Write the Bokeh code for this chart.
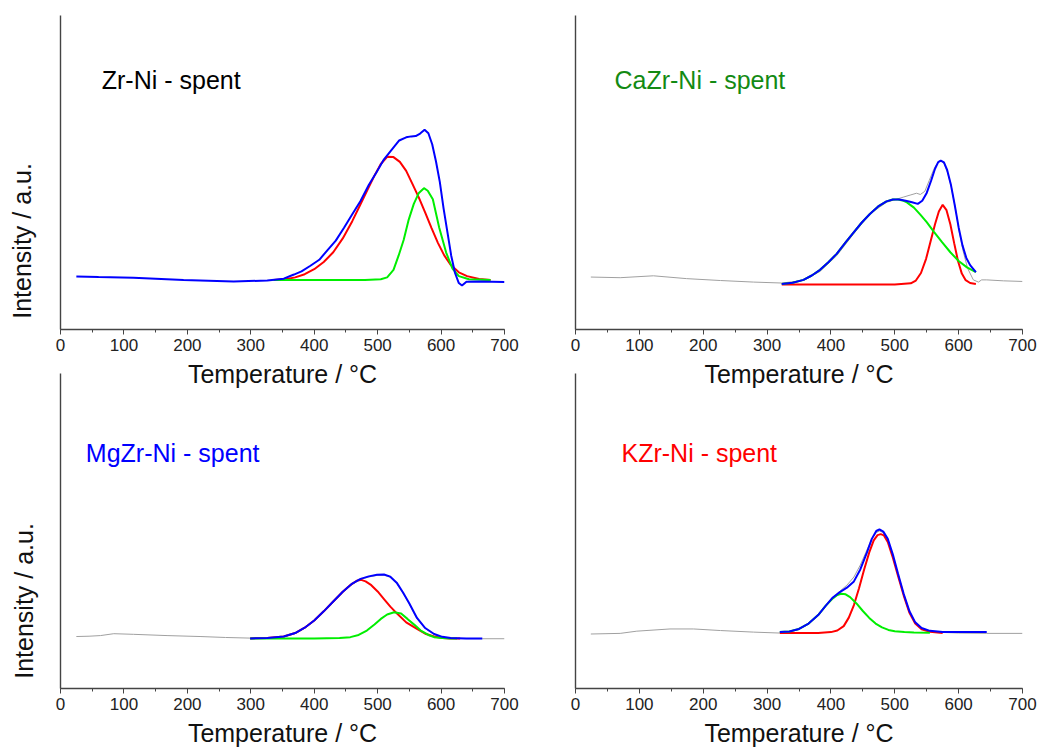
import math
from bokeh.plotting import figure
from bokeh.layouts import column, row
from bokeh.models import Range1d, SingleIntervalTicker, FixedTicker, Label
from bokeh.embed import file_html
from bokeh.resources import INLINE

FONT = "Liberation Sans"

# ---------------- Zr-Ni - spent ----------------
zr_blue_T = [25, 60, 115, 194, 273, 326, 352, 368, 380, 394, 408, 421, 434, 447, 460, 473, 486, 498, 510, 522, 534, 545, 553, 560, 567, 574, 580, 586, 592, 598, 604, 610, 616, 622, 628, 633, 640, 660, 700]
zr_blue_I = [16.9, 16.7, 16.5, 15.8, 15.3, 15.6, 16.2, 17.5, 18.5, 20.3, 22.2, 25.3, 28.3, 32.4, 36.7, 40.9, 46.0, 50.0, 54.2, 57.2, 60.2, 61.2, 61.5, 61.6, 62.4, 63.6, 62.5, 59.0, 53.5, 47.0, 38.5, 31.0, 23.5, 18.0, 14.8, 14.0, 15.2, 15.3, 15.1]
zr_red_T = [336, 355, 370, 385, 400, 415, 430, 445, 460, 472, 484, 495, 505, 515, 525, 535, 545, 555, 565, 575, 585, 595, 605, 615, 628, 641, 660, 678]
zr_red_I = [15.8, 16.0, 16.6, 17.6, 19.2, 21.5, 24.6, 29.0, 34.5, 39.5, 44.5, 49.0, 52.7, 55.0, 54.9, 53.4, 50.5, 46.3, 42.0, 37.2, 32.3, 27.6, 23.6, 20.6, 18.2, 17.0, 16.1, 15.8]
zr_green_T = [336, 400, 480, 505, 515, 525, 533, 541, 549, 557, 565, 573, 579, 587, 597, 608, 618, 628, 644, 678]
zr_green_I = [15.8, 15.8, 15.8, 16.0, 16.6, 19.0, 23.5, 28.5, 35.0, 40.0, 43.5, 45.0, 44.2, 41.5, 32.5, 24.5, 19.4, 17.0, 16.0, 15.8]

# ---------------- CaZr-Ni - spent ----------------
ca_gray_T = [24, 70, 122, 174, 227, 279, 323, 357, 383, 409, 435, 461, 487, 503, 514, 524, 534, 540, 547, 554, 561, 566, 570, 574, 578, 583, 589, 595, 601, 607, 614, 623, 631, 636, 644, 670, 700]
ca_gray_I = [16.7, 16.5, 17.1, 16.2, 15.6, 15.1, 14.8, 15.6, 18.5, 23.5, 30.3, 36.8, 40.5, 41.5, 42.2, 42.8, 43.4, 43.0, 44.0, 47.5, 51.0, 52.8, 53.5, 53.5, 52.5, 49.8, 45.0, 38.5, 31.0, 25.0, 19.5, 15.8, 15.1, 15.8, 15.8, 15.5, 15.3]
ca_blue_T = [323, 340, 357, 370, 383, 396, 409, 422, 435, 448, 461, 474, 487, 497, 507, 517, 527, 536, 543, 550, 557, 563, 568, 572, 577, 582, 588, 594, 600, 606, 612, 618, 627]
ca_blue_I = [14.5, 14.9, 15.8, 17.2, 19.0, 21.4, 24.1, 27.5, 30.8, 34.0, 36.8, 39.2, 40.8, 41.4, 41.4, 41.0, 40.5, 40.0, 41.0, 43.5, 47.5, 51.2, 53.3, 53.8, 53.2, 50.8, 46.0, 39.5, 32.5, 26.8, 22.8, 20.5, 18.3]
ca_green_T = [323, 340, 357, 370, 383, 396, 409, 422, 435, 448, 461, 474, 487, 497, 505, 512, 519, 530, 540, 550, 561, 574, 587, 600, 613, 627]
ca_green_I = [14.5, 14.9, 15.8, 17.2, 19.0, 21.4, 24.1, 27.5, 30.8, 34.0, 36.8, 39.2, 40.8, 41.4, 41.4, 41.1, 40.5, 38.8, 36.6, 34.2, 31.2, 27.8, 24.6, 21.8, 19.8, 18.3]
ca_red_T = [323, 400, 500, 525, 533, 541, 549, 556, 563, 569, 575, 581, 587, 593, 599, 605, 611, 618, 627]
ca_red_I = [14.3, 14.3, 14.3, 14.7, 15.6, 18.0, 22.5, 28.0, 33.5, 37.6, 39.7, 38.0, 33.5, 27.5, 21.8, 17.8, 15.7, 14.8, 14.5]

# ---------------- MgZr-Ni - spent ----------------
mg_gray_T = [25, 45, 63, 84, 115, 168, 220, 260, 299, 326, 352, 370, 385, 400, 415, 430, 445, 460, 473, 486, 499, 510, 520, 530, 540, 550, 562, 575, 589, 602, 615, 640, 665, 700]
mg_gray_I = [16.5, 16.6, 16.8, 17.4, 17.2, 16.8, 16.5, 16.2, 16.0, 16.0, 16.4, 17.4, 19.1, 21.4, 24.3, 27.4, 30.5, 33.1, 34.6, 35.4, 35.9, 36.0, 35.3, 33.4, 30.3, 26.8, 22.2, 19.0, 17.2, 16.3, 15.9, 15.8, 15.8, 15.8]
mg_blue_T = [299, 326, 352, 370, 385, 400, 415, 430, 445, 460, 473, 486, 499, 510, 520, 530, 540, 550, 562, 575, 589, 602, 615, 640, 665]
mg_blue_I = [15.9, 16.0, 16.5, 17.6, 19.3, 21.6, 24.5, 27.6, 30.7, 33.3, 34.8, 35.6, 36.1, 36.2, 35.5, 33.6, 30.5, 27.0, 22.4, 19.2, 17.3, 16.4, 16.0, 15.9, 15.9]
mg_red_T = [299, 326, 352, 370, 385, 400, 415, 430, 445, 458, 467, 474, 481, 490, 500, 510, 520, 531, 545, 562, 575, 589, 602, 615, 630]
mg_red_I = [15.9, 16.0, 16.5, 17.6, 19.3, 21.6, 24.5, 27.6, 30.7, 33.0, 34.2, 34.5, 34.0, 32.8, 30.8, 28.4, 26.0, 23.7, 21.0, 18.9, 17.4, 16.5, 16.0, 15.9, 15.9]
mg_green_T = [299, 400, 440, 457, 470, 483, 495, 505, 515, 526, 537, 547, 558, 568, 580, 589, 602, 615, 625]
mg_green_I = [15.9, 15.9, 16.0, 16.3, 17.0, 18.4, 20.3, 22.1, 23.5, 24.2, 23.8, 22.1, 20.2, 18.4, 17.0, 16.3, 16.0, 15.9, 15.9]

# ---------------- KZr-Ni - spent ----------------
k_gray_T = [24, 70, 96, 148, 185, 227, 279, 320, 335, 350, 365, 380, 392, 403, 414, 425, 436, 446, 456, 464, 471, 476, 482, 489, 497, 505, 514, 523, 532, 542, 555, 575, 600, 644, 700]
k_gray_I = [17.3, 17.5, 18.2, 18.9, 18.9, 18.4, 17.9, 17.6, 18.0, 18.8, 20.5, 23.2, 26.2, 28.9, 30.9, 32.8, 35.4, 39.2, 43.8, 47.5, 49.5, 50.0, 49.5, 47.2, 42.2, 36.2, 29.8, 24.3, 20.8, 19.0, 18.1, 17.8, 17.6, 17.5, 17.5]
k_blue_T = [320, 335, 350, 365, 380, 392, 403, 414, 425, 436, 446, 456, 464, 471, 476, 482, 489, 497, 505, 514, 523, 532, 542, 555, 575, 600, 644]
k_blue_I = [17.9, 18.1, 18.9, 20.6, 23.3, 26.3, 28.9, 30.6, 32.0, 34.0, 37.8, 43.0, 47.5, 50.0, 50.5, 49.8, 47.5, 42.5, 36.5, 30.0, 24.5, 21.0, 19.2, 18.3, 17.9, 17.9, 17.9]
k_red_T = [320, 380, 400, 410, 420, 428, 436, 444, 452, 460, 467, 473, 478, 483, 489, 497, 505, 514, 523, 532, 542, 555, 575]
k_red_I = [17.6, 17.6, 17.9, 18.4, 19.8, 22.5, 26.5, 31.8, 37.8, 43.2, 47.0, 48.7, 49.0, 48.6, 46.5, 41.5, 35.8, 29.5, 24.0, 20.6, 18.8, 18.0, 17.6]
k_green_T = [320, 335, 350, 365, 380, 392, 403, 410, 416, 423, 430, 440, 450, 460, 470, 480, 490, 500, 515, 530, 555]
k_green_I = [17.9, 18.1, 18.9, 20.6, 23.3, 26.3, 28.6, 29.7, 30.1, 29.9, 29.0, 27.0, 24.6, 22.4, 20.6, 19.4, 18.6, 18.2, 17.9, 17.8, 17.7]

panel_titles = ["Zr-Ni - spent", "CaZr-Ni - spent", "MgZr-Ni - spent", "KZr-Ni - spent"]
title_colors = ["#000000", "#138a13", "#0000ff", "#ff0000"]
title_pos = [(65, 79.3), (61, 79.3), (40, 74.8), (72, 74.8)]
y_label_text = "Intensity / a.u."

BLUE = "#0000ff"
RED = "#ff0000"
GREEN = "#00ee00"
GRAY = "#a0a0a0"
AXIS = "#444444"
LABEL_W = 40


def ylabel_strip(height, cx, cy, transparent):
    # narrow strip that carries the rotated y-axis title
    f = figure(width=LABEL_W, height=height, x_range=Range1d(0, LABEL_W), y_range=Range1d(height, 0),
               x_axis_type=None, y_axis_type=None, output_backend="svg", toolbar_location=None,
               min_border_left=0, min_border_right=0, min_border_top=0, min_border_bottom=0)
    f.outline_line_color = None
    f.grid.visible = False
    if transparent:
        f.background_fill_alpha = 0
        f.border_fill_alpha = 0
    f.add_layout(Label(x=cx, y=cy, text=y_label_text, angle=math.pi / 2,
                       text_font=FONT, text_font_size="25px", text_color="#111111",
                       text_align="center", text_baseline="middle"))
    return f


def make_panel(idx, width, height, lb, rb, tb, bb, transparent, series):
    p = figure(width=width, height=height, x_range=Range1d(0, 700), y_range=Range1d(0, 100),
               output_backend="svg", toolbar_location=None,
               min_border_left=lb, min_border_right=rb, min_border_top=tb, min_border_bottom=bb)
    p.grid.visible = False
    p.outline_line_color = None
    if transparent:
        p.background_fill_alpha = 0
        p.border_fill_alpha = 0
    xa = p.xaxis[0]
    xa.ticker = SingleIntervalTicker(interval=100, num_minor_ticks=2)
    xa.axis_line_color = AXIS
    xa.axis_line_width = 1.4
    xa.major_tick_line_color = AXIS
    xa.minor_tick_line_color = AXIS
    xa.major_tick_out = 5
    xa.major_tick_in = 0
    xa.minor_tick_out = 3
    xa.minor_tick_in = 0
    xa.major_label_text_font = FONT
    xa.major_label_text_font_size = "17px"
    xa.major_label_text_color = "#222222"
    xa.major_label_standoff = 4
    xa.axis_label = "Temperature / °C"
    xa.axis_label_text_font = FONT
    xa.axis_label_text_font_size = "25px"
    xa.axis_label_text_font_style = "normal"
    xa.axis_label_text_color = "#111111"
    xa.axis_label_standoff = 6

    ya = p.yaxis[0]
    ya.ticker = FixedTicker(ticks=[])
    ya.axis_line_color = AXIS
    ya.axis_line_width = 1.4
    ya.major_tick_out = 0
    ya.major_tick_in = 0
    ya.minor_tick_out = 0
    ya.minor_tick_in = 0
    ya.major_label_text_font_size = "0px"
    ya.major_label_standoff = 0

    for (T, I, color, lw) in series:
        p.line(T, I, line_color=color, line_width=lw)

    tx, ty = title_pos[idx]
    p.add_layout(Label(x=tx, y=ty, text=panel_titles[idx], text_font=FONT, text_font_size="25px",
                       text_color=title_colors[idx], text_baseline="middle", text_align="left"))
    return p


s1 = ylabel_strip(397, 21, 285, False)
p1 = make_panel(0, 523 - LABEL_W, 397, 60 - LABEL_W, 19, 15, 68, False, [
    (zr_red_T, zr_red_I, RED, 2),
    (zr_green_T, zr_green_I, GREEN, 2),
    (zr_blue_T, zr_blue_I, BLUE, 2),
])
p2 = make_panel(1, 523, 397, 52, 24, 15, 68, False, [
    (ca_gray_T, ca_gray_I, GRAY, 1),
    (ca_red_T, ca_red_I, RED, 2),
    (ca_green_T, ca_green_I, GREEN, 2),
    (ca_blue_T, ca_blue_I, BLUE, 2),
])
s3 = ylabel_strip(385, 23, 278, True)
p3 = make_panel(2, 523 - LABEL_W, 385, 60 - LABEL_W, 19, 7, 63, True, [
    (mg_gray_T, mg_gray_I, GRAY, 1),
    (mg_red_T, mg_red_I, RED, 2),
    (mg_green_T, mg_green_I, GREEN, 2),
    (mg_blue_T, mg_blue_I, BLUE, 2),
])
p4 = make_panel(3, 523, 385, 52, 24, 7, 63, True, [
    (k_gray_T, k_gray_I, GRAY, 1),
    (k_red_T, k_red_I, RED, 2),
    (k_green_T, k_green_I, GREEN, 2),
    (k_blue_T, k_blue_I, BLUE, 2),
])

layout = column(row(s1, p1, p2), row(s3, p3, p4, margin=(-31, 0, 0, 0)))

open("out.html", "w").write(file_html(layout, INLINE))
